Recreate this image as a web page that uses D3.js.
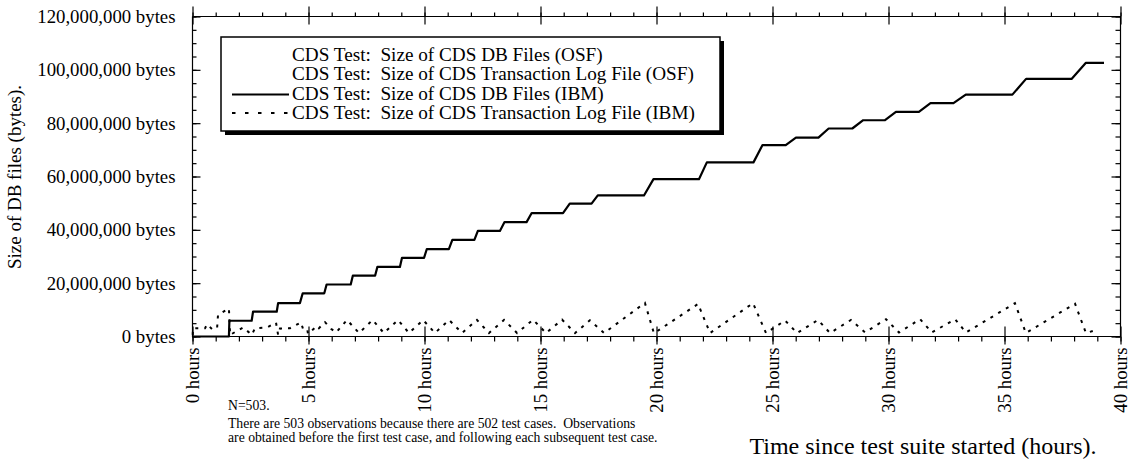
<!DOCTYPE html>
<html><head><meta charset="utf-8">
<script src="https://cdn.jsdelivr.net/npm/d3@7"></script>
<style>
body{margin:0;background:#fff;}
svg text{font-family:"Liberation Serif","Times New Roman",serif;fill:#000;}
</style></head>
<body><svg id="c" width="1130" height="465"></svg>
<script>
// ---- data ----
const hourTicksMajor = [0,5,10,15,20,25,30,35,40];
const hourTicksMinor = d3.range(0,41,1);
const byteTicksMajor = [0,20e6,40e6,60e6,80e6,100e6,120e6];
const byteTicksMinor = d3.range(0,120e6+1,5e6);
const legendLabels = [
  "CDS Test:  Size of CDS DB Files (OSF)",
  "CDS Test:  Size of CDS Transaction Log File (OSF)",
  "CDS Test:  Size of CDS DB Files (IBM)",
  "CDS Test:  Size of CDS Transaction Log File (IBM)"
];
const legendStyles = ["none","none","solid","dashed"];
// OSF series: no visible marks in the reference
const dbOSF = [];
const logOSF = [];
// IBM DB files: [hours, millions of bytes]
const dbIBM = [
 [0,0],[1.57,0],[1.59,5.9],[2.55,5.9],[2.61,9.3],[3.63,9.3],[3.69,12.5],[4.63,12.5],
 [4.75,16.2],[5.68,16.2],[5.78,19.5],[6.82,19.5],[6.91,22.8],[7.87,22.8],[7.97,26.1],[8.94,26.1],
 [9.03,29.5],[9.98,29.5],[10.1,32.8],[11.05,32.8],[11.2,36.2],[12.15,36.2],[12.3,39.6],[13.25,39.6],
 [13.45,42.9],[14.4,42.9],[14.62,46.3],[15.97,46.3],[16.26,49.8],[17.2,49.8],[17.47,52.9],[19.46,52.9],
 [19.87,59.0],[21.83,59.0],[22.17,65.3],[24.18,65.3],[24.57,71.8],[25.57,71.8],[26.01,74.6],[26.98,74.6],
 [27.42,78.0],[28.44,78.0],[28.91,81.1],[29.85,81.1],[30.32,84.2],[31.31,84.2],[31.81,87.5],[32.8,87.5],
 [33.33,90.7],[35.34,90.7],[35.93,96.6],[37.89,96.6],[38.5,102.6],[39.29,102.6]
];
// IBM transaction log: [hours, millions of bytes]
const logIBM = [
 [0.01,0.6],[0.02,3.1],[0.54,3.1],[0.63,4.6],[0.84,2.8],[1.06,3.1],[1.10,8.1],[1.57,10.5],
 [1.62,0.6],[2.18,3.4],[2.56,0.6],[2.69,3.1],[3.21,3.4],[3.60,5.2],[3.69,0.6],[3.77,3.0],
 [4.20,3.1],[4.68,5.3],[4.76,2.9],[4.94,2.9],[4.98,1.0],[5.37,4.0],[5.45,3.1],[5.71,5.4],
 [5.97,2.9],[6.19,1.5],[6.66,6.2],[7.18,1.3],[7.76,6.2],[8.25,1.3],[8.86,6.2],[9.33,1.3],
 [9.94,6.2],[10.45,1.3],[11.06,6.2],[11.62,1.3],[12.26,6.2],[12.78,1.3],[13.43,6.2],[13.99,1.3],
 [14.68,6.3],[15.24,1.3],[15.93,6.3],[16.49,1.3],[17.13,6.1],[17.74,1.3],[19.50,12.6],[19.89,1.2],
 [21.79,12.2],[22.31,1.3],[24.16,12.5],[24.72,1.3],[25.54,6.0],[26.06,1.3],[26.96,6.2],[27.48,1.3],
 [28.38,6.2],[28.99,1.5],[29.89,6.5],[30.45,1.5],[31.36,6.5],[31.87,1.5],[32.87,6.5],[33.34,1.5],
 [35.45,12.5],[35.92,1.3],[38.04,12.3],[38.51,1.3],[38.98,2.5]
];
const yTitle = "Size of DB files (bytes).";
const xTitle = "Time since test suite started (hours).";
const notes = ["N=503.",
 "There are 503 observations because there are 502 test cases.  Observations",
 "are obtained before the first test case, and following each subsequent test case."];

// ---- drawing ----
const svg = d3.select("#c");
const x = d3.scaleLinear().domain([0,40]).range([192.5,1120.5]);
const y = d3.scaleLinear().domain([0,120e6]).range([336.5,16.5]);
const X0=x(0), X1=x(40), Y0=y(0), Y1=y(120e6);
const fmt = d3.format(",");

function clean(g){ g.select(".domain").remove(); g.selectAll("line").attr("stroke","#000").attr("stroke-width",1.2); }

// bottom axis
svg.append("g").attr("transform",`translate(0,${Y0})`)
  .call(d3.axisBottom(x).tickValues(hourTicksMinor).tickSize(5).tickFormat("")).call(clean);
svg.append("g").attr("transform",`translate(0,${Y0})`)
  .call(d3.axisTop(x).tickValues(hourTicksMajor).tickSize(10).tickFormat("")).call(clean);
const xb = svg.append("g").attr("transform",`translate(0,${Y0})`)
  .call(d3.axisBottom(x).tickValues(hourTicksMajor).tickSize(8).tickFormat(d=>d+" hours")).call(clean);
xb.selectAll("text").attr("font-size",18.8).attr("text-anchor","end")
  .attr("transform","translate(0,11) rotate(-90)").attr("x",0).attr("y",0).attr("dy","0.33em");

// top axis
svg.append("g").attr("transform",`translate(0,${Y1})`)
  .call(d3.axisTop(x).tickValues(hourTicksMinor).tickSize(4).tickFormat("")).call(clean);
svg.append("g").attr("transform",`translate(0,${Y1})`)
  .call(d3.axisTop(x).tickValues(hourTicksMajor).tickSize(10).tickFormat("")).call(clean);
svg.append("g").attr("transform",`translate(0,${Y1})`)
  .call(d3.axisBottom(x).tickValues(hourTicksMajor).tickSize(8).tickFormat("")).call(clean);

// left axis
svg.append("g").attr("transform",`translate(${X0},0)`)
  .call(d3.axisRight(y).tickValues(byteTicksMinor).tickSize(4).tickFormat("")).call(clean);
svg.append("g").attr("transform",`translate(${X0},0)`)
  .call(d3.axisRight(y).tickValues(byteTicksMajor).tickSize(8).tickFormat("")).call(clean);
const yl = svg.append("g").attr("transform",`translate(${X0},0)`)
  .call(d3.axisLeft(y).tickValues(byteTicksMajor).tickSize(0).tickPadding(17).tickFormat(d=>fmt(d)+" bytes")).call(clean);
yl.selectAll("text").attr("font-size",18.8);

// right axis
svg.append("g").attr("transform",`translate(${X1},0)`)
  .call(d3.axisLeft(y).tickValues(byteTicksMinor).tickSize(5).tickFormat("")).call(clean);
svg.append("g").attr("transform",`translate(${X1},0)`)
  .call(d3.axisLeft(y).tickValues(byteTicksMajor).tickSize(9).tickFormat("")).call(clean);

// frame lines
svg.append("path").attr("d",`M${X0},${Y1}V${Y0}H${X1}V${Y1}H${X0}`)
  .attr("fill","none").attr("stroke","#000").attr("stroke-width",1.2);

// data lines
const line = d3.line().x(d=>x(d[0])).y(d=>y(d[1]*1e6));
svg.append("path").datum(logIBM).attr("d",line).attr("fill","none")
  .attr("stroke","#000").attr("stroke-width",2).attr("stroke-dasharray","3,6");
svg.append("path").datum(dbIBM).attr("d",line).attr("fill","none")
  .attr("stroke","#000").attr("stroke-width",2.2).attr("stroke-linejoin","round");

// legend
const lg = svg.append("g");
lg.append("rect").attr("x",225).attr("y",41).attr("width",499).attr("height",94).attr("fill","#000");
lg.append("rect").attr("x",221).attr("y",37).attr("width",499).attr("height",94)
  .attr("fill","#fff").attr("stroke","#000").attr("stroke-width",1.5);
const ly = [54.5,74,93.5,113];
const lineY = [54.5,74,94.5,113];
legendLabels.forEach((t,i)=>{
  lg.append("text").attr("x",292).attr("y",ly[i]).attr("dy","0.33em").attr("font-size",19.2)
    .style("white-space","pre").text(t);
  if(legendStyles[i]!=="none"){
    lg.append("line").attr("x1",232).attr("x2",289).attr("y1",lineY[i]).attr("y2",lineY[i])
      .attr("stroke","#000").attr("stroke-width",2)
      .attr("stroke-dasharray",legendStyles[i]==="dashed"?"3.5,9.5":null);
  }
});

// titles
svg.append("text").attr("transform","translate(15,177) rotate(-90)").attr("text-anchor","middle")
  .attr("dy","0.33em").attr("font-size",19).text(yTitle);
svg.append("text").attr("x",923).attr("y",446).attr("text-anchor","middle").attr("dy","0.33em")
  .attr("font-size",24).text(xTitle);
const ny=[405,423,437];
notes.forEach((t,i)=>svg.append("text").attr("x",228).attr("y",ny[i]).attr("dy","0.33em")
  .attr("font-size",13.7).style("white-space","pre").text(t));
</script></body></html>
